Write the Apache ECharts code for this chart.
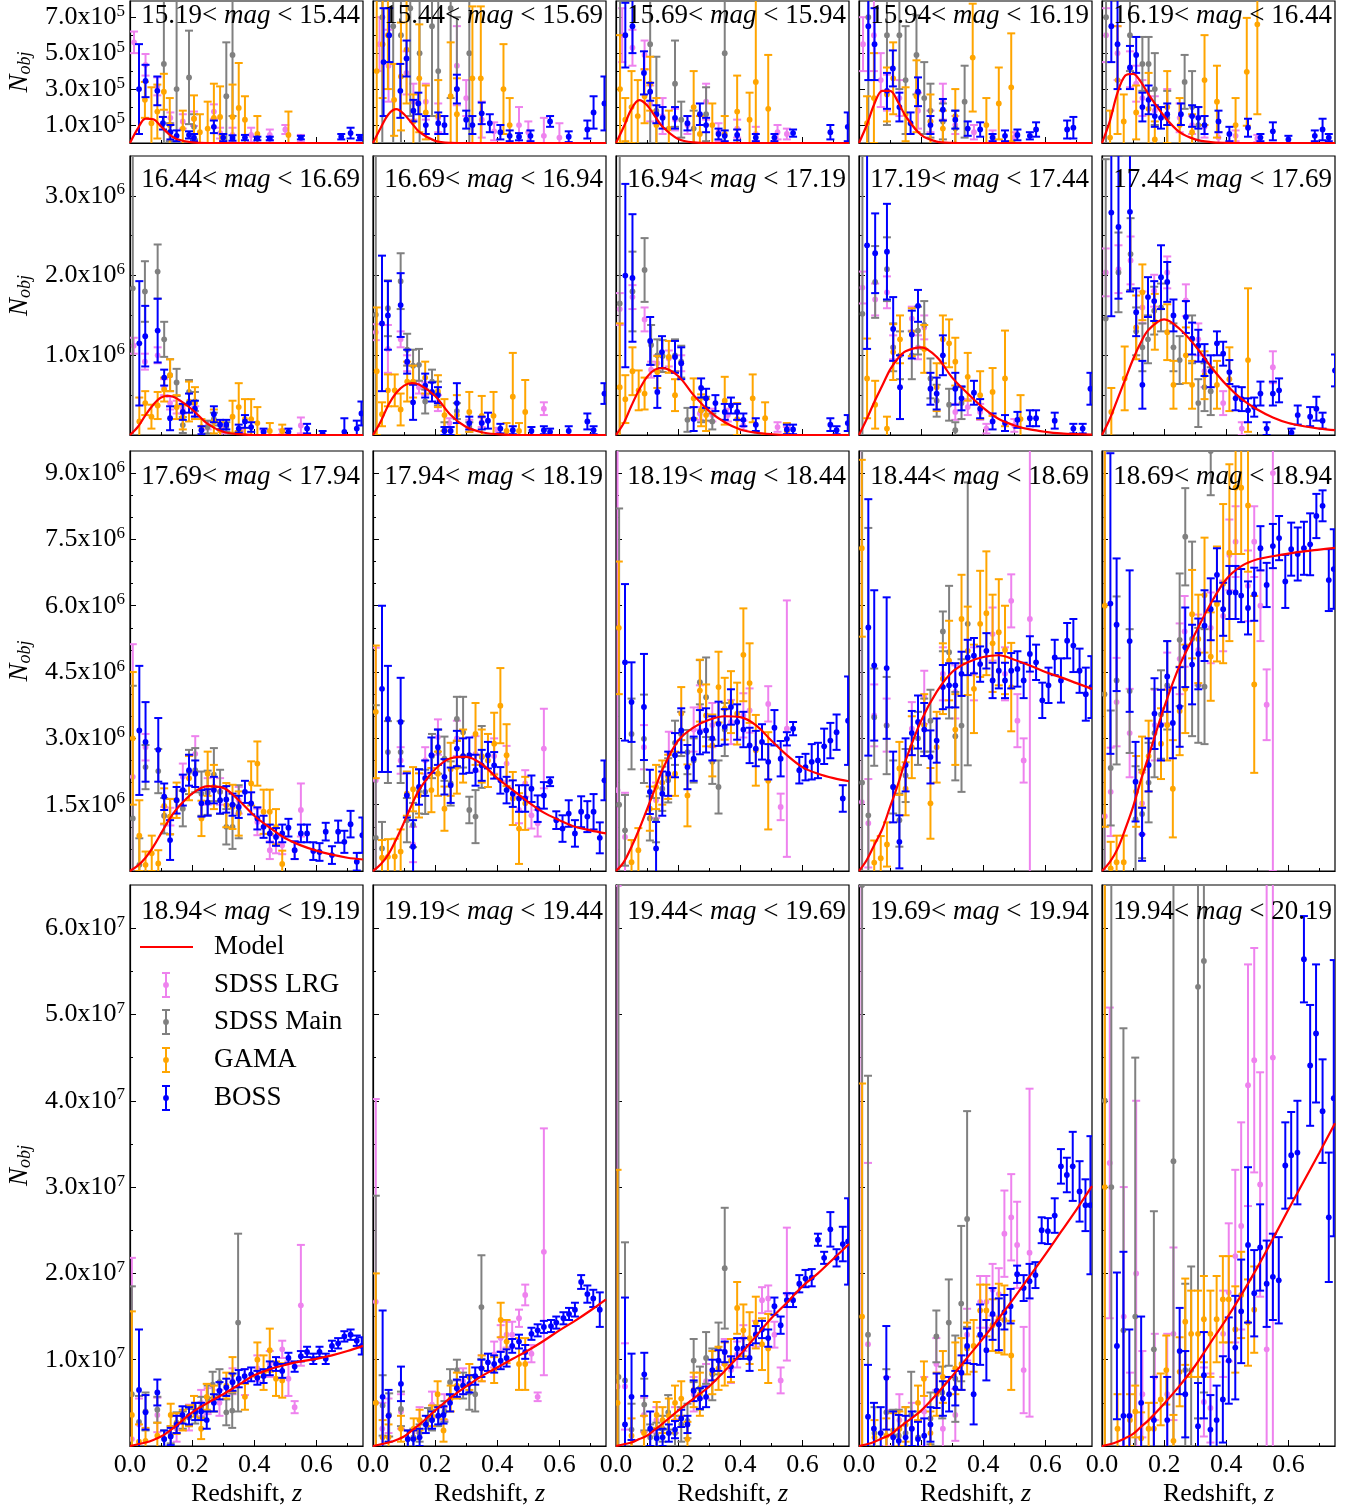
<!DOCTYPE html>
<html>
<head>
<meta charset="utf-8">
<title>Redshift distributions per magnitude bin</title>
<script src="https://cdn.jsdelivr.net/npm/echarts@6/dist/echarts.min.js"></script>
<style>
  html, body { margin: 0; padding: 0; background: #ffffff; }
  #chart { width: 1357px; height: 1511px; }
</style>
</head>
<body>
<div id="chart"></div>
<script>
// ---------------------------------------------------------------------------
// Magnitude bin edges (one panel per consecutive pair)
const MAG_EDGES = ['15.19','15.44','15.69','15.94','16.19','16.44','16.69','16.94','17.19','17.44',
                   '17.69','17.94','18.19','18.44','18.69','18.94','19.19','19.44','19.69','19.94','20.19'];

// Axis ticks (values per panel row, in units of ROW_UNIT)
const ROW_UNIT = [1e5, 1e6, 1e6, 1e7];
const ROW_EXP  = [5, 6, 6, 7];
const Y_MAX    = [7.9, 3.5, 9.5, 6.5];
const Y_MAJOR  = [[1,3,5,7], [1,2,3], [1.5,3,4.5,6,7.5,9], [1,2,3,4,5,6]];
const Y_MINOR  = [[2,4,6], [0.5,1.5,2.5], [0.5,1,2,2.5,3.5,4,5,5.5,6.5,7,8,8.5], [0.5,1.5,2.5,3.5,4.5,5.5]];
const X_MAX    = 0.75;
const X_MAJOR  = [0, 0.2, 0.4, 0.6];
const X_MINOR  = [0.1, 0.3, 0.5, 0.7];

// Model N(z) sampled at Z_MODEL, one row per magnitude bin (units of ROW_UNIT)
const Z_MODEL = [0,0.025,0.05,0.075,0.1,0.125,0.15,0.2,0.25,0.3,0.35,0.4,0.45,0.5,0.55,0.6,0.65,0.7,0.75];
const MODEL = [
  [0,0.8,1.36,1.32,0.92,0.5,0.22,0.03,0,0,0,0,0,0,0,0,0,0,0],
  [0,0.85,1.6,1.88,1.6,1.1,0.6,0.12,0.01,0,0,0,0,0,0,0,0,0,0],
  [0,0.9,1.9,2.38,2.1,1.5,0.9,0.22,0.03,0,0,0,0,0,0,0,0,0,0],
  [0,1.0,2.2,2.9,2.9,2.3,1.5,0.45,0.08,0.01,0,0,0,0,0,0,0,0,0],
  [0,1.2,2.8,3.75,3.85,3.4,2.7,1.5,0.6,0.2,0.05,0.01,0,0,0,0,0,0,0],
  [0,0.1,0.25,0.38,0.47,0.49,0.46,0.32,0.14,0.04,0.01,0,0,0,0,0,0,0,0],
  [0,0.17,0.38,0.53,0.62,0.65,0.63,0.49,0.25,0.1,0.035,0.01,0,0,0,0,0,0,0],
  [0,0.15,0.37,0.57,0.73,0.82,0.84,0.74,0.5,0.3,0.16,0.07,0.03,0.01,0,0,0,0,0],
  [0,0.2,0.42,0.62,0.82,0.96,1.05,1.1,0.98,0.72,0.52,0.34,0.2,0.12,0.07,0.04,0.02,0.01,0.005],
  [0,0.2,0.45,0.7,0.95,1.16,1.32,1.45,1.33,1.12,0.86,0.63,0.45,0.32,0.22,0.15,0.11,0.08,0.06],
  [0,0.12,0.3,0.55,0.85,1.15,1.4,1.75,1.92,1.88,1.6,1.25,0.98,0.74,0.58,0.46,0.37,0.3,0.26],
  [0,0.15,0.38,0.72,1.1,1.5,1.85,2.3,2.55,2.58,2.42,2.1,1.83,1.56,1.32,1.15,1.0,0.92,0.85],
  [0,0.2,0.55,0.95,1.4,1.85,2.3,2.95,3.25,3.42,3.5,3.48,3.3,2.95,2.62,2.35,2.2,2.1,2.03],
  [0,0.25,0.6,0.95,1.45,1.95,2.5,3.4,4.05,4.5,4.72,4.84,4.88,4.78,4.65,4.5,4.38,4.25,4.12],
  [0,0.2,0.5,0.95,1.45,2.05,2.6,3.7,4.65,5.37,6.05,6.6,6.9,7.05,7.12,7.18,7.23,7.27,7.31],
  [0,0.02,0.04,0.07,0.11,0.17,0.24,0.39,0.5,0.6,0.71,0.82,0.89,0.94,0.98,1.01,1.05,1.1,1.16],
  [0,0.02,0.04,0.07,0.11,0.18,0.25,0.41,0.56,0.69,0.81,0.91,1.01,1.11,1.22,1.34,1.45,1.57,1.7],
  [0,0.02,0.04,0.08,0.12,0.19,0.26,0.41,0.55,0.69,0.87,1.06,1.27,1.48,1.66,1.85,2.0,2.17,2.34],
  [0,0.02,0.05,0.09,0.13,0.2,0.27,0.41,0.6,0.81,1.03,1.25,1.48,1.72,1.97,2.22,2.48,2.74,3.01],
  [0,0.02,0.05,0.09,0.14,0.22,0.3,0.49,0.7,0.93,1.2,1.47,1.76,2.07,2.4,2.74,3.07,3.4,3.74]
];

// Measured counts: [z, N, error] per magnitude bin (units of ROW_UNIT)
const LRG = [
  [[0.013,5.6,0.6],[0.05,4.35,0.6],[0.088,3.15,0.5],[0.13,1.4,0.3],[0.17,1.2,0.4],[0.206,1.35,0.4],[0.27,1.75,0.4],[0.29,0.55,0.3],[0.33,0.45,0.4],[0.39,0.45,0.4],[0.45,0.45,0.3],[0.5,0.75,0.25],[0.55,0.25,0.2]],
  [[0.021,5.5,1.5],[0.05,4.3,2.0],[0.108,3.9,1.2],[0.13,2.3,1.0],[0.17,2.3,1.0],[0.21,1.4,0.8],[0.27,4.3,2.2],[0.3,2.5,1.0],[0.35,1.3,1.0],[0.39,0.65,0.5],[0.47,1.0,1.0],[0.5,0.6,0.6],[0.55,0.4,1.0],[0.6,0.3,0.8]],
  [[0.02,6.0,1.5],[0.053,5.3,1.0],[0.092,4.9,0.8],[0.11,2.2,1.0],[0.15,1.5,1.0],[0.19,1.3,0.6],[0.23,1.0,0.5],[0.29,2.3,1.0],[0.33,0.6,0.5],[0.39,0.8,0.5],[0.45,0.5,0.4],[0.52,0.6,0.4],[0.55,0.5,0.3]],
  [[0.013,5.5,1.5],[0.048,6.0,2.0],[0.07,3.5,1.5],[0.09,2.8,1.0],[0.13,2.5,1.0],[0.19,1.8,1.0],[0.23,1.2,0.6],[0.27,2.3,1.0],[0.31,1.0,0.5],[0.37,0.6,0.4],[0.43,0.4,0.3],[0.5,0.3,0.3]],
  [[0.013,6.0,1.5],[0.05,5.0,1.5],[0.09,4.1,1.0],[0.11,3.3,1.0],[0.13,2.5,1.0],[0.17,1.8,0.8],[0.21,2.0,1.0],[0.25,1.4,0.8],[0.29,1.0,0.5],[0.33,0.9,0.6],[0.375,0.3,0.3],[0.43,0.4,0.3],[0.5,0.25,0.2]],
  [[0.012,1.12,0.1],[0.048,0.92,0.1],[0.089,1.0,0.1],[0.11,0.6,0.1],[0.129,0.4,0.08],[0.15,0.35,0.08],[0.17,0.33,0.06],[0.21,0.3,0.06],[0.25,0.12,0.05],[0.3,0.06,0.04],[0.36,0.05,0.04],[0.43,0.03,0.03],[0.49,0.04,0.03],[0.55,0.12,0.1]],
  [[0.009,1.29,0.1],[0.048,1.08,0.3],[0.089,1.2,0.1],[0.11,0.9,0.1],[0.148,0.6,0.08],[0.168,0.58,0.08],[0.209,0.4,0.1],[0.246,0.15,0.06],[0.31,0.13,0.06],[0.35,0.16,0.06],[0.4,0.05,0.04],[0.55,0.33,0.08]],
  [[0.012,1.58,0.2],[0.053,1.73,0.15],[0.092,1.45,0.15],[0.113,0.82,0.1],[0.133,0.9,0.1],[0.17,0.96,0.1],[0.21,0.9,0.1],[0.27,0.27,0.08],[0.31,0.25,0.08],[0.36,0.25,0.08],[0.41,0.12,0.06],[0.52,0.1,0.06],[0.55,0.05,0.05]],
  [[0.011,1.85,0.2],[0.052,1.7,0.2],[0.09,1.79,0.2],[0.11,1.1,0.15],[0.17,1.46,0.15],[0.19,1.1,0.15],[0.21,1.35,0.15],[0.31,0.29,0.1],[0.35,0.35,0.1],[0.39,0.29,0.1],[0.41,0.08,0.06],[0.5,0.12,0.08]],
  [[0.012,2.04,0.3],[0.053,2.08,0.3],[0.092,2.19,0.3],[0.13,1.6,0.2],[0.168,1.81,0.2],[0.21,2.04,0.2],[0.27,1.69,0.2],[0.31,1.2,0.2],[0.33,0.8,0.2],[0.39,0.4,0.15],[0.45,0.08,0.08],[0.55,0.85,0.2]],
  [[0.009,2.13,3.0],[0.05,2.8,0.3],[0.11,1.25,0.2],[0.13,1.23,0.2],[0.17,2.13,0.3],[0.21,2.65,0.4],[0.25,1.8,0.3],[0.29,1.8,0.3],[0.35,1.6,0.3],[0.41,1.11,0.3],[0.45,0.47,0.2],[0.47,0.6,0.2],[0.49,0.58,0.2],[0.53,0.47,0.2],[0.55,1.38,0.6]],
  [[0.009,2.05,3.0],[0.089,2.5,0.3],[0.129,0.6,0.4],[0.168,2.5,0.3],[0.209,3.03,0.4],[0.27,3.0,0.4],[0.33,2.65,0.4],[0.39,2.6,0.4],[0.43,2.43,0.4],[0.47,1.38,0.3],[0.49,1.98,0.3],[0.51,1.26,0.3],[0.53,1.08,0.3],[0.55,2.77,0.9]],
  [[0.005,1.83,9],[0.029,0.77,1.0],[0.09,2.8,0.5],[0.129,1.6,0.4],[0.17,2.65,0.5],[0.21,3.1,0.5],[0.25,3.2,0.5],[0.27,3.7,0.5],[0.31,3.3,0.5],[0.37,3.37,0.5],[0.41,3.52,0.5],[0.43,3.63,0.5],[0.49,3.78,0.4],[0.53,1.45,0.3],[0.55,3.22,2.9]],
  [[0.009,1.56,9],[0.03,1.08,1.0],[0.049,3.52,0.7],[0.089,3.3,0.6],[0.17,3.22,0.6],[0.21,3.93,0.6],[0.27,4.46,0.6],[0.31,4.05,0.6],[0.37,4.46,0.6],[0.43,5.36,0.6],[0.47,4.46,0.6],[0.49,6.11,0.6],[0.51,3.4,0.6],[0.53,2.5,0.5],[0.55,5.7,10]],
  [[0.009,1.24,9],[0.028,1.79,1.0],[0.047,3.82,1.0],[0.089,3.12,1.0],[0.129,1.53,0.7],[0.17,3.3,0.8],[0.21,4.14,0.8],[0.25,4.8,0.8],[0.266,5.42,0.8],[0.31,5.0,0.8],[0.35,5.5,0.8],[0.39,5.77,0.8],[0.41,7.15,0.8],[0.43,7.45,0.8],[0.47,6.45,0.8],[0.49,7.45,0.8],[0.51,6.0,0.8],[0.53,3.76,0.8],[0.55,9,9]],
  [[0.006,0.08,2.1],[0.029,0.25,0.3],[0.088,0.36,0.2],[0.15,0.2,0.15],[0.19,0.33,0.15],[0.229,0.5,0.15],[0.25,0.52,0.15],[0.288,0.5,0.15],[0.33,0.75,0.15],[0.37,0.74,0.15],[0.41,0.9,0.15],[0.45,0.95,0.15],[0.49,1.12,0.1],[0.51,0.78,0.2],[0.53,0.45,0.07],[0.55,1.63,0.7]],
  [[0.009,1.67,2.35],[0.03,0.2,0.3],[0.05,0.35,0.2],[0.09,0.4,0.2],[0.15,0.3,0.15],[0.19,0.48,0.15],[0.23,0.45,0.15],[0.29,0.75,0.15],[0.35,0.9,0.15],[0.39,1.06,0.15],[0.411,1.25,0.15],[0.43,1.29,0.15],[0.448,1.29,0.15],[0.47,1.48,0.1],[0.49,1.75,0.12],[0.51,1.07,0.1],[0.53,0.57,0.05],[0.55,2.25,1.43]],
  [[0.005,0.69,5.8],[0.029,0.69,0.5],[0.09,0.36,0.2],[0.13,0.3,0.15],[0.19,0.3,0.15],[0.25,0.6,0.2],[0.29,0.75,0.2],[0.35,1.09,0.15],[0.37,0.88,0.15],[0.39,1.06,0.15],[0.41,1.25,0.15],[0.45,1.3,0.15],[0.47,1.69,0.15],[0.49,1.71,0.15],[0.51,1.29,0.15],[0.53,0.76,0.15],[0.55,1.76,0.77]],
  [[0.008,6.5,7],[0.029,1.18,2.1],[0.09,0.4,0.4],[0.13,0.3,0.3],[0.17,0.2,0.3],[0.21,0.4,0.4],[0.249,0.95,0.3],[0.27,0.2,0.3],[0.31,0.36,0.3],[0.348,1.29,0.3],[0.39,1.67,0.3],[0.41,1.67,0.3],[0.43,1.81,0.3],[0.45,1.76,0.3],[0.468,2.46,0.5],[0.49,2.65,0.5],[0.509,2.33,0.5],[0.53,0.88,0.5],[0.549,2.24,1.9]],
  [[0.025,3.28,1.8],[0.07,1.5,1.5],[0.09,0.35,0.5],[0.11,2.0,2.0],[0.13,0.6,0.5],[0.17,0.8,0.5],[0.21,0.6,0.7],[0.23,1.3,1.0],[0.328,0.51,0.4],[0.349,0.44,0.4],[0.39,1.3,0.5],[0.408,1.78,0.8],[0.429,2.2,1.0],[0.448,2.55,1.2],[0.47,4.18,1.4],[0.49,4.47,1.3],[0.509,3.03,1.3],[0.53,1.12,6],[0.55,4.5,5]]
];

const MAIN = [
  [[0.109,4.4,5],[0.128,0.6,0.5],[0.15,3.0,6],[0.19,3.65,2.6],[0.206,0.9,0.7],[0.31,2.6,3],[0.33,4.9,3.4]],
  [[0.03,7,7],[0.065,6.5,7],[0.09,6.0,6],[0.12,7.5,6],[0.15,5.0,6],[0.19,6.5,5],[0.21,4.0,5],[0.25,7.5,5],[0.27,3.0,4],[0.31,5.0,5]],
  [[0.013,8,8],[0.11,5.5,6],[0.13,1.8,3],[0.19,3.3,2.4],[0.21,1.3,1.0],[0.25,0.8,1.0],[0.29,1.6,1.5],[0.35,5,6]],
  [[0.03,7,7],[0.09,6.0,5],[0.13,6.0,3],[0.15,3.5,3],[0.185,4.9,2.2],[0.21,2.5,2],[0.23,1.8,1.5],[0.27,1.2,1.0],[0.31,0.8,1.0],[0.34,2.3,2]],
  [[0.013,7,7],[0.09,6.0,2],[0.13,4.4,1.5],[0.15,4.4,1.5],[0.17,3.0,2],[0.21,1.4,1.5],[0.266,3.4,1.5],[0.29,2.0,2],[0.31,1.0,1]],
  [[0.009,1.84,2.0],[0.048,1.8,0.38],[0.089,2.05,0.34],[0.11,1.2,0.22],[0.129,0.75,0.2],[0.15,0.66,0.17],[0.17,0.125,0.1],[0.19,0.54,0.15],[0.209,0.42,0.12],[0.25,0.1,0.08],[0.27,0.2,0.08],[0.31,0.1,0.06]],
  [[0.009,1.51,2.0],[0.048,1.59,0.35],[0.089,1.93,0.35],[0.11,1.07,0.2],[0.129,0.87,0.2],[0.148,0.88,0.2],[0.168,0.42,0.15],[0.19,0.67,0.15],[0.209,0.52,0.15],[0.23,0.06,0.1],[0.27,0.3,0.1],[0.31,0.1,0.06]],
  [[0.012,1.65,2.0],[0.053,1.8,0.5],[0.092,2.07,0.4],[0.113,1.13,0.25],[0.133,1.0,0.2],[0.15,0.99,0.2],[0.19,1.0,0.2],[0.21,0.92,0.2],[0.23,0.19,0.15],[0.274,0.31,0.15],[0.29,0.33,0.15],[0.31,0.17,0.1]],
  [[0.011,1.52,2.2],[0.052,1.92,0.45],[0.09,2.08,0.4],[0.11,1.1,0.3],[0.132,1.0,0.3],[0.17,1.0,0.3],[0.19,1.31,0.3],[0.21,1.38,0.3],[0.23,0.71,0.25],[0.25,0.43,0.2],[0.29,0.38,0.2],[0.31,0.06,0.1],[0.33,0.4,0.2]],
  [[0.012,1.46,2.0],[0.053,2.04,0.5],[0.092,2.27,0.45],[0.11,1.3,0.3],[0.13,1.1,0.3],[0.148,1.2,0.3],[0.168,1.56,0.3],[0.19,1.6,0.3],[0.23,1.1,0.3],[0.25,0.94,0.3],[0.29,1.2,0.3],[0.31,0.4,0.3],[0.33,0.6,0.3],[0.35,0.55,0.3]],
  [[0.009,1.19,3.0],[0.03,0.14,0.6],[0.05,2.35,0.5],[0.091,2.26,0.5],[0.11,1.25,0.4],[0.129,1.23,0.4],[0.17,1.41,0.4],[0.19,2.24,0.5],[0.21,2.28,0.5],[0.23,1.75,0.5],[0.25,1.77,0.5],[0.27,2.18,0.6],[0.29,1.79,0.5],[0.31,1.0,0.4],[0.33,1.0,0.5],[0.35,1.34,0.6]],
  [[0.009,0.75,3.0],[0.029,0.51,0.6],[0.048,2.69,0.7],[0.089,2.69,0.7],[0.109,1.15,0.5],[0.129,1.04,0.5],[0.148,1.8,0.5],[0.168,1.79,0.5],[0.19,2.6,0.5],[0.21,2.7,0.5],[0.23,2.54,0.5],[0.25,1.98,0.5],[0.27,3.44,0.5],[0.29,3.14,0.8],[0.31,1.38,0.3],[0.33,1.23,0.6],[0.35,2.58,0.7]],
  [[0.01,1.5,6.7],[0.029,0.92,0.8],[0.05,3.1,0.8],[0.09,2.99,1.0],[0.109,1.19,0.5],[0.129,1.15,0.5],[0.149,1.86,0.5],[0.168,2.05,0.5],[0.19,2.9,0.5],[0.21,3.1,0.5],[0.23,2.69,0.5],[0.25,2.5,0.5],[0.27,4.27,0.5],[0.29,3.93,0.9],[0.31,2.47,0.5],[0.33,1.9,0.6],[0.35,3.2,0.6]],
  [[0.01,2.0,9],[0.03,1.26,6.5],[0.049,3.48,1.1],[0.089,3.29,1.1],[0.11,1.9,0.6],[0.13,1.15,0.6],[0.15,2.16,0.6],[0.19,3.0,0.6],[0.21,3.3,0.6],[0.23,3.4,0.7],[0.27,5.42,0.45],[0.29,4.95,1.5],[0.31,3.05,1.0],[0.33,3.29,1.5],[0.35,5.59,3.2]],
  [[0.008,4,10],[0.028,2.33,1.3],[0.047,4.31,1.9],[0.089,4.07,1.4],[0.108,1.17,1.2],[0.129,1.29,1.0],[0.15,2.0,0.9],[0.169,3.12,1.0],[0.19,3.54,1.0],[0.21,4.2,1.0],[0.25,5.23,1.5],[0.268,7.56,1.1],[0.29,5.25,2.2],[0.31,4.2,1.3],[0.33,4.17,1.3],[0.35,9.5,1.0]],
  [[0.006,0.6,1.25],[0.029,0.28,0.3],[0.05,0.4,0.22],[0.088,0.42,0.15],[0.11,0.08,0.1],[0.131,0.13,0.1],[0.15,0.27,0.12],[0.17,0.3,0.1],[0.19,0.33,0.1],[0.21,0.38,0.12],[0.229,0.45,0.12],[0.25,0.55,0.15],[0.266,0.71,0.15],[0.288,0.74,0.15],[0.31,0.39,0.15],[0.329,0.41,0.2],[0.348,1.43,1.03]],
  [[0.009,0.5,2.4],[0.031,0.47,0.35],[0.052,0.36,0.25],[0.09,0.43,0.2],[0.112,0.08,0.1],[0.13,0.1,0.1],[0.15,0.15,0.1],[0.177,0.32,0.12],[0.19,0.3,0.12],[0.21,0.35,0.12],[0.23,0.4,0.12],[0.248,0.74,0.15],[0.27,0.88,0.12],[0.29,0.7,0.15],[0.31,0.62,0.2],[0.329,0.6,0.2],[0.349,1.61,0.6]],
  [[0.008,0.8,6],[0.029,0.76,1.6],[0.05,0.19,0.3],[0.091,0.48,0.3],[0.11,0.1,0.15],[0.13,0.12,0.15],[0.15,0.2,0.15],[0.168,0.39,0.2],[0.19,0.15,0.2],[0.21,0.25,0.2],[0.23,0.29,0.2],[0.25,0.99,0.25],[0.27,0.67,0.25],[0.29,1.02,0.3],[0.31,0.83,0.3],[0.33,1.13,0.3],[0.35,2.06,0.7]],
  [[0.01,6.5,8],[0.029,1.29,3.0],[0.05,0.15,0.3],[0.088,0.39,0.5],[0.11,0.12,0.3],[0.128,0.12,0.3],[0.15,0.15,0.3],[0.168,0.36,0.5],[0.19,0.1,0.3],[0.23,0.32,0.3],[0.249,1.27,0.3],[0.268,0.62,0.3],[0.289,1.43,0.5],[0.31,0.78,0.5],[0.329,1.65,0.9],[0.348,2.63,1.25]],
  [[0.009,4,8],[0.03,3,8],[0.069,1.34,3.5],[0.107,1.5,3.0],[0.167,1.12,1.6],[0.23,3.3,4],[0.268,0.88,1.0],[0.287,0.88,1.2],[0.309,5.32,5],[0.328,5.62,5]]
];

const GAMA = [
  [[0.048,2.4,1.0],[0.069,1.1,2.0],[0.088,1.75,1.5],[0.109,2.85,1.0],[0.128,1.0,1.5],[0.17,0.8,1.0],[0.206,1.35,1.3],[0.225,0.6,1.0],[0.25,0.8,1.5],[0.27,1.4,1.9],[0.29,1.45,1.7],[0.33,1.45,1.8],[0.35,1.95,2.5],[0.37,1.3,1.3],[0.41,0.5,1.0],[0.51,0.45,1.3]],
  [[0.012,4.0,6],[0.031,5.5,3],[0.048,6.0,3],[0.068,2.4,2],[0.09,3.7,3],[0.108,5.2,3],[0.13,1.2,1.5],[0.149,3.6,3],[0.17,1.7,1.5],[0.21,1.5,2],[0.25,2.6,3],[0.27,1.6,2],[0.32,3.6,4],[0.347,3.6,4],[0.42,3.0,2.5],[0.44,1.0,1.5]],
  [[0.013,3.0,3.0],[0.03,1.3,1.2],[0.05,2.0,2.0],[0.07,1.5,2.0],[0.092,2.6,1.5],[0.11,3.3,1.5],[0.13,1.0,1.5],[0.17,0.8,1.0],[0.25,2.0,2.0],[0.27,0.5,1.0],[0.31,1.0,1.2],[0.35,0.5,1.0],[0.39,1.75,2.0],[0.43,1.3,1.5],[0.45,3.4,5],[0.49,1.9,3.0]],
  [[0.026,1.1,1.5],[0.048,2.5,2.5],[0.09,2.7,1.5],[0.11,3.6,2.0],[0.15,1.6,1.5],[0.185,2.6,2.0],[0.23,1.2,1.5],[0.27,0.8,1.0],[0.31,1.5,1.5],[0.366,4.75,3],[0.41,1.0,1.5],[0.45,2.2,2],[0.49,3.1,3]],
  [[0.026,0.3,1.5],[0.05,3.5,3],[0.07,1.2,1.5],[0.11,1.7,1.5],[0.15,1.9,2],[0.17,0.2,1.0],[0.21,2.0,2],[0.25,1.0,1.5],[0.29,0.6,1.0],[0.33,3.5,2.5],[0.37,2.3,2],[0.43,1.0,1.5],[0.466,3.96,3],[0.5,6.6,5]],
  [[0.03,0.17,0.3],[0.049,0.4,0.15],[0.069,0.23,0.15],[0.089,0.37,0.17],[0.11,0.57,0.15],[0.129,0.75,0.2],[0.15,0.35,0.15],[0.17,0.22,0.15],[0.19,0.42,0.25],[0.209,0.4,0.2],[0.23,0.1,0.1],[0.27,0.17,0.15],[0.29,0.06,0.1],[0.33,0.23,0.2],[0.35,0.35,0.3],[0.37,0.2,0.25],[0.39,0.2,0.25],[0.41,0.15,0.2],[0.45,0.05,0.1],[0.49,0.05,0.08]],
  [[0.012,0.8,0.8],[0.029,0.26,0.15],[0.048,0.56,0.2],[0.07,0.56,0.2],[0.089,0.32,0.2],[0.11,0.67,0.25],[0.129,0.67,0.2],[0.168,0.72,0.2],[0.209,0.55,0.2],[0.23,0.25,0.2],[0.27,0.25,0.25],[0.31,0.29,0.25],[0.35,0.24,0.25],[0.388,0.24,0.3],[0.43,0.05,0.1],[0.45,0.48,0.55],[0.47,0.05,0.1],[0.49,0.29,0.4]],
  [[0.012,0.6,0.8],[0.03,0.45,0.3],[0.053,0.8,0.3],[0.073,0.56,0.25],[0.092,0.52,0.2],[0.133,0.79,0.2],[0.17,0.98,0.2],[0.19,0.5,0.2],[0.25,0.46,0.25],[0.274,0.31,0.2],[0.29,0.25,0.2],[0.35,0.43,0.3],[0.39,0.2,0.2],[0.44,0.46,0.3],[0.48,0.21,0.2],[0.55,0.05,0.1]],
  [[0.026,0.71,0.5],[0.052,0.38,0.3],[0.09,0.08,0.15],[0.11,1.04,0.35],[0.132,1.2,0.3],[0.17,1.29,0.3],[0.21,1.08,0.3],[0.25,0.6,0.3],[0.27,1.2,0.3],[0.29,1.15,0.3],[0.31,0.92,0.3],[0.35,0.73,0.3],[0.39,0.5,0.3],[0.43,0.54,0.3],[0.47,0.71,0.6],[0.52,0.2,0.3]],
  [[0.03,0.29,0.3],[0.073,0.71,0.4],[0.11,1.35,0.4],[0.13,1.79,0.35],[0.17,1.42,0.35],[0.21,1.29,0.35],[0.23,0.63,0.3],[0.27,1.0,0.35],[0.29,0.63,0.3],[0.33,0.75,0.3],[0.37,0.63,0.3],[0.41,0.7,0.4],[0.47,0.94,0.9]],
  [[0.009,3.0,1.5],[0.03,0.8,0.8],[0.05,0.14,0.3],[0.07,0.4,0.4],[0.091,0.17,0.3],[0.11,1.47,0.4],[0.129,1.23,0.4],[0.15,1.6,0.4],[0.19,2.1,0.5],[0.23,1.19,0.4],[0.25,2.2,0.5],[0.27,1.9,0.5],[0.31,1.49,0.5],[0.33,1.45,0.5],[0.35,1.3,0.5],[0.39,1.98,0.5],[0.41,2.43,0.5],[0.43,1.34,0.5],[0.45,1.34,0.5],[0.47,1.0,0.4],[0.49,0.16,0.3]],
  [[0.009,3.6,1.5],[0.029,0.3,0.4],[0.048,0.32,0.4],[0.07,0.33,0.4],[0.089,0.44,0.5],[0.109,1.75,0.5],[0.129,1.85,0.5],[0.148,1.71,0.5],[0.188,1.83,0.5],[0.209,2.2,0.5],[0.23,1.41,0.5],[0.25,2.3,0.6],[0.27,2.35,0.6],[0.29,2.6,0.6],[0.33,3.1,0.7],[0.35,2.6,0.6],[0.37,2.5,0.6],[0.39,2.88,0.7],[0.41,3.74,0.85],[0.43,2.62,0.7],[0.45,1.64,0.6],[0.47,0.96,0.8],[0.49,1.53,0.6]],
  [[0.009,5.5,1.5],[0.05,0.2,0.5],[0.072,0.47,0.5],[0.109,1.41,0.5],[0.129,1.9,0.5],[0.149,2.0,0.5],[0.168,2.13,0.5],[0.19,2.2,0.5],[0.21,3.56,0.6],[0.23,1.71,0.7],[0.27,4.08,0.7],[0.29,3.52,0.7],[0.31,2.84,0.7],[0.33,4.16,0.8],[0.35,3.67,0.7],[0.37,3.82,0.7],[0.39,3.56,0.7],[0.41,4.89,1.05],[0.43,4.25,0.9],[0.45,2.73,0.8],[0.49,2.04,1.1]],
  [[0.009,7.3,2.0],[0.049,0.19,0.5],[0.07,0.29,0.5],[0.09,0.6,0.5],[0.13,2.32,0.6],[0.15,1.86,0.6],[0.17,2.8,0.7],[0.21,3.3,0.7],[0.23,1.53,0.8],[0.25,2.8,0.8],[0.27,4.35,0.8],[0.29,4.76,0.9],[0.31,3.2,0.8],[0.33,5.7,1.0],[0.35,4.98,1.0],[0.37,4.12,1.0],[0.39,5.59,1.2],[0.41,5.83,1.4],[0.43,5.15,1.1],[0.45,5.4,1.2],[0.47,5.0,1.0],[0.49,4.16,1.0]],
  [[0.009,6,5],[0.028,0.06,0.6],[0.047,0.2,0.6],[0.07,0.2,0.6],[0.11,1.8,0.8],[0.129,2.24,0.8],[0.15,2.6,0.8],[0.19,2.88,0.8],[0.21,3.3,0.8],[0.228,1.86,1.1],[0.25,3.62,1.0],[0.268,4.12,1.0],[0.29,5.81,1.0],[0.31,5.25,1.0],[0.33,6.24,1.3],[0.35,4.85,1.0],[0.37,6.04,1.3],[0.39,6.5,1.8],[0.41,7.2,2.0],[0.43,8.67,1.5],[0.448,8.67,1.5],[0.47,8.27,1.5],[0.49,4.22,2.0]],
  [[0.006,0.36,1.2],[0.029,0.05,0.2],[0.05,0.06,0.15],[0.088,0.12,0.15],[0.131,0.36,0.13],[0.15,0.26,0.12],[0.17,0.3,0.12],[0.19,0.35,0.12],[0.206,0.46,0.12],[0.229,0.2,0.12],[0.247,0.57,0.15],[0.27,0.55,0.15],[0.31,0.7,0.15],[0.33,0.83,0.2],[0.37,0.57,0.15],[0.41,1.0,0.2],[0.43,0.85,0.2],[0.45,1.11,0.25],[0.47,0.78,0.2],[0.49,0.76,0.2]],
  [[0.009,0.5,1.5],[0.031,0.1,0.2],[0.05,0.1,0.15],[0.09,0.2,0.15],[0.131,0.2,0.12],[0.15,0.3,0.12],[0.19,0.35,0.12],[0.208,0.6,0.15],[0.227,0.18,0.13],[0.25,0.55,0.15],[0.27,0.7,0.15],[0.31,0.8,0.15],[0.35,0.9,0.15],[0.39,0.88,0.15],[0.411,1.46,0.2],[0.43,1.21,0.25],[0.47,0.95,0.3],[0.49,0.95,0.3]],
  [[0.005,0.5,2.7],[0.05,0.12,0.2],[0.09,0.15,0.2],[0.131,0.36,0.15],[0.15,0.3,0.15],[0.17,0.35,0.2],[0.19,0.5,0.2],[0.21,0.55,0.2],[0.23,0.08,0.2],[0.25,0.65,0.2],[0.27,0.6,0.25],[0.31,0.85,0.25],[0.33,0.9,0.25],[0.35,0.95,0.25],[0.37,0.99,0.25],[0.39,1.6,0.3],[0.41,1.34,0.3],[0.43,1.25,0.3],[0.45,1.43,0.3],[0.47,1.18,0.3],[0.49,1.13,0.4]],
  [[0.01,1.5,2.7],[0.05,0.1,0.2],[0.088,0.12,0.2],[0.11,0.18,0.2],[0.13,0.2,0.2],[0.15,0.25,0.2],[0.19,0.5,0.2],[0.209,0.78,0.2],[0.23,0.15,0.25],[0.25,0.6,0.25],[0.27,0.8,0.3],[0.31,0.9,0.3],[0.33,0.95,0.3],[0.348,1.13,0.3],[0.369,1.16,0.3],[0.39,1.57,0.3],[0.41,1.57,0.3],[0.43,1.4,0.3],[0.45,1.48,0.4],[0.468,1.46,0.4],[0.49,1.05,0.4]],
  [[0.009,3,4],[0.05,0.2,0.4],[0.09,0.3,0.3],[0.107,0.4,0.3],[0.126,0.09,0.3],[0.15,0.2,0.3],[0.167,0.2,0.3],[0.189,0.54,0.3],[0.207,0.88,0.4],[0.23,0.06,0.3],[0.25,0.86,0.4],[0.268,1.44,0.5],[0.287,1.3,0.5],[0.309,1.3,0.5],[0.328,1.47,0.5],[0.349,1.3,0.5],[0.369,1.47,0.5],[0.389,1.7,0.5],[0.408,1.7,0.5],[0.429,1.35,0.5],[0.448,1.75,0.5],[0.47,1.43,0.5],[0.49,1.58,0.5]]
];

const BOSS = [
  [[0.029,3.0,2.5],[0.05,3.45,0.9],[0.088,2.9,0.8],[0.106,1.1,0.35],[0.13,0.6,0.4],[0.15,0.4,0.3],[0.19,0.45,0.2],[0.206,0.3,0.2],[0.27,0.9,0.35],[0.3,0.3,0.2],[0.33,0.28,0.15],[0.37,0.3,0.15],[0.41,0.25,0.1],[0.45,0.25,0.1],[0.55,0.3,0.1],[0.68,0.35,0.15],[0.71,0.55,0.3],[0.74,0.3,0.15]],
  [[0.034,4.5,3],[0.052,6.0,1.5],[0.088,2.9,1.5],[0.108,4.7,1.0],[0.13,1.8,0.6],[0.146,2.2,0.6],[0.17,1.0,0.5],[0.21,1.1,0.6],[0.23,1.0,0.5],[0.27,3.0,0.8],[0.3,1.3,0.5],[0.32,1.0,0.5],[0.35,1.65,0.6],[0.376,1.1,0.5],[0.41,0.6,0.4],[0.44,0.4,0.3],[0.47,0.35,0.2],[0.507,0.4,0.3],[0.57,1.2,0.3],[0.63,0.35,0.3],[0.69,0.75,0.5],[0.71,1.7,0.9],[0.745,2.2,1.5]],
  [[0.03,6.0,1.8],[0.053,6.5,1.5],[0.09,3.9,1.2],[0.11,2.85,0.5],[0.13,1.6,0.5],[0.15,1.4,0.6],[0.19,1.4,0.6],[0.23,1.1,0.4],[0.27,1.6,0.6],[0.29,1.0,0.4],[0.33,0.5,0.3],[0.35,0.4,0.3],[0.39,0.45,0.3],[0.45,0.3,0.2],[0.51,0.3,0.2],[0.57,0.55,0.2],[0.69,0.6,0.4],[0.746,0.9,0.8]],
  [[0.03,6.5,3],[0.05,5.5,2],[0.09,2.9,1.0],[0.109,4.15,1.0],[0.13,2.0,0.8],[0.166,1.1,0.6],[0.19,2.85,0.8],[0.23,1.0,0.5],[0.27,1.85,0.6],[0.31,1.3,0.5],[0.35,0.8,0.4],[0.39,0.75,0.4],[0.43,0.3,0.2],[0.47,0.4,0.3],[0.51,0.45,0.3],[0.55,0.4,0.2],[0.57,0.75,0.4],[0.67,0.75,0.5],[0.69,0.85,0.6]],
  [[0.03,6.5,2],[0.05,5.5,2.5],[0.09,4.2,1.2],[0.11,4.9,1.0],[0.13,2.0,0.8],[0.15,2.4,0.8],[0.17,1.5,0.6],[0.19,1.4,0.6],[0.21,1.6,0.6],[0.254,1.6,0.6],[0.29,1.5,0.6],[0.31,1.4,0.6],[0.33,1.0,0.5],[0.375,1.2,0.6],[0.41,0.5,0.4],[0.47,0.85,0.5],[0.51,0.3,0.2],[0.55,0.65,0.5],[0.6,0.2,0.2],[0.685,0.4,0.3],[0.71,0.75,0.6],[0.73,0.3,0.2]],
  [[0.03,1.15,0.78],[0.049,1.24,0.38],[0.089,1.31,0.4],[0.11,0.72,0.1],[0.129,0.21,0.15],[0.17,0.29,0.1],[0.19,0.4,0.12],[0.209,0.33,0.1],[0.23,0.06,0.05],[0.27,0.26,0.1],[0.29,0.13,0.06],[0.31,0.13,0.06],[0.35,0.08,0.05],[0.37,0.17,0.08],[0.39,0.1,0.06],[0.43,0.04,0.04],[0.51,0.04,0.04],[0.57,0.08,0.06],[0.62,0.02,0.03],[0.69,0.04,0.17],[0.73,0.08,0.1],[0.745,0.27,0.15]],
  [[0.029,1.4,0.85],[0.048,1.5,0.43],[0.089,1.63,0.4],[0.11,0.92,0.15],[0.129,0.41,0.22],[0.168,0.62,0.15],[0.19,0.54,0.12],[0.209,0.5,0.1],[0.23,0.05,0.05],[0.25,0.05,0.05],[0.27,0.4,0.25],[0.31,0.15,0.08],[0.35,0.15,0.08],[0.37,0.18,0.1],[0.41,0.08,0.06],[0.45,0.06,0.05],[0.51,0.05,0.05],[0.55,0.06,0.05],[0.57,0.04,0.04],[0.63,0.05,0.06],[0.69,0.17,0.1],[0.71,0.06,0.05],[0.745,0.52,0.13]],
  [[0.03,2.0,1.15],[0.053,1.97,0.8],[0.11,1.18,0.3],[0.133,0.54,0.2],[0.148,1.04,0.2],[0.19,0.98,0.2],[0.21,0.9,0.2],[0.25,0.2,0.15],[0.274,0.59,0.12],[0.29,0.46,0.12],[0.32,0.4,0.1],[0.35,0.29,0.1],[0.37,0.37,0.1],[0.39,0.29,0.1],[0.41,0.19,0.08],[0.45,0.13,0.08],[0.55,0.07,0.06],[0.57,0.07,0.06],[0.69,0.13,0.08],[0.71,0.06,0.05],[0.746,0.15,0.1]],
  [[0.026,2.38,1.3],[0.052,2.28,0.5],[0.09,2.3,0.6],[0.11,1.33,0.4],[0.132,0.6,0.4],[0.17,1.26,0.3],[0.19,1.62,0.2],[0.23,0.58,0.2],[0.25,0.52,0.2],[0.27,1.0,0.25],[0.31,0.58,0.2],[0.33,0.46,0.15],[0.37,0.53,0.15],[0.39,0.33,0.12],[0.43,0.17,0.1],[0.47,0.15,0.1],[0.51,0.19,0.1],[0.55,0.21,0.1],[0.57,0.21,0.1],[0.63,0.18,0.1],[0.69,0.08,0.06],[0.72,0.08,0.06],[0.745,0.58,0.2]],
  [[0.03,2.79,1.3],[0.053,2.61,0.9],[0.09,2.8,1.0],[0.11,1.54,0.3],[0.13,0.63,0.3],[0.148,1.73,0.25],[0.168,1.68,0.25],[0.19,1.98,0.4],[0.21,1.92,0.25],[0.23,1.5,0.2],[0.27,1.48,0.2],[0.29,1.21,0.2],[0.31,1.12,0.2],[0.33,0.94,0.2],[0.35,0.8,0.2],[0.37,1.15,0.15],[0.39,1.02,0.15],[0.41,0.79,0.15],[0.43,0.46,0.15],[0.45,0.45,0.15],[0.47,0.31,0.15],[0.49,0.35,0.12],[0.51,0.52,0.15],[0.53,0.08,0.08],[0.55,0.52,0.15],[0.57,0.56,0.15],[0.61,0.03,0.05],[0.63,0.25,0.12],[0.67,0.23,0.12],[0.69,0.33,0.15],[0.71,0.18,0.1],[0.75,0.81,0.2]],
  [[0.03,3.18,1.46],[0.05,2.92,0.9],[0.091,2.74,0.72],[0.11,1.68,0.3],[0.129,0.7,0.45],[0.15,1.6,0.3],[0.17,1.83,0.35],[0.19,2.28,0.35],[0.21,2.2,0.3],[0.23,1.53,0.3],[0.25,1.55,0.3],[0.27,1.83,0.3],[0.29,1.6,0.3],[0.31,1.62,0.3],[0.33,1.5,0.25],[0.35,1.45,0.25],[0.37,1.79,0.25],[0.39,1.53,0.25],[0.41,1.19,0.25],[0.43,1.0,0.25],[0.45,0.85,0.2],[0.47,0.77,0.2],[0.49,0.85,0.2],[0.51,0.98,0.2],[0.53,0.47,0.2],[0.55,0.85,0.2],[0.57,0.85,0.2],[0.59,0.45,0.2],[0.61,0.43,0.2],[0.63,0.89,0.2],[0.65,0.36,0.2],[0.67,0.89,0.25],[0.69,0.66,0.25],[0.71,1.06,0.3],[0.73,0.21,0.2],[0.748,0.81,0.4]],
  [[0.029,4.12,1.88],[0.048,3.44,1.2],[0.089,3.37,1.0],[0.109,1.71,0.5],[0.129,0.55,0.6],[0.148,1.9,0.4],[0.168,2.1,0.4],[0.188,2.62,0.4],[0.209,2.8,0.4],[0.23,2.13,0.4],[0.25,1.94,0.4],[0.27,2.77,0.4],[0.29,2.6,0.4],[0.31,2.62,0.4],[0.33,2.28,0.35],[0.35,2.39,0.35],[0.37,2.62,0.3],[0.39,2.39,0.3],[0.41,2.05,0.3],[0.43,1.83,0.3],[0.45,1.75,0.3],[0.47,1.64,0.3],[0.49,1.64,0.3],[0.51,1.86,0.3],[0.53,1.41,0.3],[0.55,1.71,0.3],[0.57,2.02,0.1],[0.59,1.15,0.2],[0.61,0.96,0.3],[0.63,1.3,0.3],[0.65,0.85,0.3],[0.67,1.34,0.35],[0.69,1.23,0.35],[0.71,1.34,0.4],[0.73,0.75,0.35],[0.745,2.05,0.45]],
  [[0.029,4.72,1.77],[0.05,3.82,0.9],[0.09,3.71,1.2],[0.109,1.79,0.5],[0.129,0.51,0.6],[0.149,1.75,0.5],[0.168,2.2,0.5],[0.19,2.62,0.5],[0.21,3.18,0.5],[0.23,2.35,0.5],[0.25,2.54,0.5],[0.27,3.14,0.5],[0.29,3.18,0.5],[0.31,3.0,0.5],[0.33,3.33,0.5],[0.35,3.26,0.4],[0.37,3.71,0.4],[0.39,3.37,0.4],[0.41,3.2,0.4],[0.43,2.84,0.4],[0.45,2.77,0.4],[0.47,2.92,0.4],[0.49,2.47,0.4],[0.51,3.24,0.4],[0.53,2.54,0.4],[0.55,2.99,0.15],[0.57,3.22,0.15],[0.59,2.28,0.3],[0.61,2.35,0.3],[0.63,2.47,0.4],[0.65,2.5,0.4],[0.67,2.82,0.4],[0.69,2.95,0.4],[0.71,3.14,0.4],[0.73,1.64,0.3],[0.747,3.4,1.0]],
  [[0.03,5.51,2.9],[0.049,4.65,1.7],[0.089,4.59,1.6],[0.11,1.9,0.8],[0.13,0.66,0.6],[0.15,2.4,0.6],[0.17,3.12,0.5],[0.19,3.37,0.6],[0.21,3.2,0.6],[0.23,2.58,0.6],[0.25,2.95,0.5],[0.27,4.16,0.5],[0.29,4.2,0.5],[0.31,4.2,0.5],[0.33,4.46,0.5],[0.35,4.83,0.4],[0.37,4.87,0.4],[0.39,4.68,0.4],[0.41,4.98,0.4],[0.43,4.31,0.4],[0.45,4.53,0.4],[0.47,4.31,0.4],[0.49,4.53,0.4],[0.51,4.57,0.4],[0.53,4.31,0.4],[0.55,4.91,0.4],[0.57,4.72,0.4],[0.59,3.86,0.4],[0.61,4.2,0.4],[0.63,4.83,0.4],[0.65,4.31,0.5],[0.67,5.21,0.4],[0.69,5.1,0.6],[0.71,4.53,0.5],[0.73,4.0,0.6],[0.748,4.16,0.7]],
  [[0.027,6.05,3.4],[0.047,5.57,1.5],[0.089,5.2,1.6],[0.108,2.02,0.9],[0.129,0.83,0.6],[0.15,2.4,0.6],[0.169,3.56,0.8],[0.19,3.3,0.8],[0.21,4.4,0.8],[0.228,3.35,0.8],[0.25,3.71,0.9],[0.268,5.06,0.9],[0.29,4.67,0.9],[0.31,4.91,0.8],[0.33,5.55,0.8],[0.35,5.92,0.7],[0.37,6.7,0.6],[0.39,5.92,0.6],[0.41,6.3,0.6],[0.43,6.3,0.6],[0.448,6.23,0.6],[0.47,5.95,0.6],[0.49,6.26,0.6],[0.51,7.3,0.5],[0.53,6.47,0.5],[0.55,7.35,0.5],[0.57,7.53,0.5],[0.59,6.55,0.6],[0.609,7.28,0.6],[0.63,7.17,0.6],[0.65,7.3,0.6],[0.67,7.39,0.7],[0.69,8.03,0.5],[0.71,8.26,0.35],[0.73,6.58,0.7],[0.746,6.83,0.9]],
  [[0.029,0.65,0.7],[0.05,0.39,0.2],[0.088,0.62,0.15],[0.11,0.08,0.1],[0.131,0.11,0.1],[0.15,0.25,0.1],[0.169,0.36,0.1],[0.19,0.35,0.1],[0.21,0.4,0.1],[0.229,0.4,0.1],[0.247,0.3,0.1],[0.27,0.5,0.1],[0.288,0.64,0.1],[0.31,0.68,0.1],[0.33,0.74,0.1],[0.35,0.78,0.1],[0.369,0.81,0.08],[0.39,0.83,0.08],[0.41,0.79,0.08],[0.43,0.81,0.08],[0.45,0.9,0.08],[0.47,0.95,0.08],[0.49,0.87,0.08],[0.51,1.02,0.06],[0.53,0.92,0.06],[0.55,1.04,0.06],[0.57,1.09,0.06],[0.59,1.01,0.06],[0.61,1.09,0.06],[0.63,1.01,0.06],[0.65,1.16,0.06],[0.67,1.19,0.06],[0.69,1.27,0.06],[0.71,1.29,0.06],[0.73,1.22,0.06],[0.746,1.16,0.1]],
  [[0.031,0.57,1.0],[0.05,0.35,0.3],[0.09,0.72,0.2],[0.112,0.08,0.1],[0.13,0.08,0.1],[0.15,0.1,0.1],[0.17,0.25,0.1],[0.19,0.3,0.1],[0.21,0.35,0.1],[0.227,0.36,0.1],[0.248,0.5,0.1],[0.27,0.67,0.1],[0.29,0.7,0.1],[0.31,0.72,0.1],[0.329,0.81,0.1],[0.349,0.9,0.1],[0.37,0.97,0.1],[0.39,0.95,0.1],[0.411,0.99,0.1],[0.43,1.02,0.1],[0.448,1.16,0.08],[0.47,1.21,0.08],[0.49,1.09,0.08],[0.51,1.3,0.07],[0.53,1.34,0.07],[0.55,1.38,0.07],[0.573,1.39,0.07],[0.59,1.43,0.07],[0.613,1.48,0.07],[0.631,1.53,0.07],[0.65,1.58,0.08],[0.67,1.9,0.08],[0.69,1.76,0.1],[0.709,1.71,0.1],[0.73,1.58,0.2]],
  [[0.029,0.25,1.47],[0.05,0.57,0.5],[0.091,0.83,0.25],[0.11,0.2,0.2],[0.131,0.09,0.1],[0.15,0.1,0.1],[0.17,0.15,0.1],[0.19,0.19,0.1],[0.21,0.32,0.1],[0.23,0.25,0.1],[0.25,0.64,0.12],[0.27,0.55,0.12],[0.29,0.57,0.12],[0.31,0.88,0.12],[0.33,0.99,0.12],[0.35,1.09,0.12],[0.37,0.92,0.12],[0.39,1.13,0.12],[0.41,1.13,0.12],[0.43,1.02,0.15],[0.45,1.29,0.1],[0.47,1.35,0.1],[0.49,1.25,0.1],[0.51,1.62,0.1],[0.53,1.4,0.1],[0.55,1.69,0.08],[0.57,1.69,0.08],[0.59,1.88,0.1],[0.61,1.94,0.1],[0.63,1.95,0.1],[0.65,2.39,0.07],[0.67,2.18,0.07],[0.69,2.51,0.2],[0.71,2.18,0.1],[0.73,2.34,0.2],[0.747,2.37,0.5]],
  [[0.029,0.34,0.6],[0.048,0.2,0.3],[0.07,0.15,0.3],[0.088,0.79,0.6],[0.11,0.1,0.3],[0.128,0.06,0.3],[0.15,0.1,0.25],[0.17,0.2,0.2],[0.19,0.08,0.2],[0.21,0.12,0.2],[0.23,0.25,0.2],[0.25,0.64,0.2],[0.27,0.55,0.2],[0.29,0.6,0.2],[0.31,0.67,0.2],[0.33,0.85,0.2],[0.348,1.16,0.2],[0.369,0.6,0.35],[0.39,1.29,0.35],[0.41,1.11,0.35],[0.43,1.53,0.3],[0.45,1.41,0.3],[0.468,1.55,0.2],[0.488,1.62,0.2],[0.509,1.99,0.1],[0.53,1.83,0.15],[0.549,1.91,0.2],[0.568,1.98,0.15],[0.588,2.5,0.15],[0.608,2.49,0.15],[0.63,2.67,0.2],[0.65,3.24,0.2],[0.669,3.14,0.2],[0.688,3.24,0.4],[0.71,2.95,0.35],[0.729,2.79,0.3],[0.745,2.79,0.8]],
  [[0.048,1.16,0.85],[0.069,0.35,1.9],[0.088,0.35,1.0],[0.126,0.5,1.0],[0.167,0.3,0.5],[0.21,0.3,0.5],[0.25,1.1,0.5],[0.268,0.6,0.5],[0.309,0.23,0.5],[0.328,0.82,0.5],[0.349,0.19,0.4],[0.369,0.3,0.4],[0.389,0.54,0.5],[0.408,0.99,0.5],[0.429,1.14,0.6],[0.448,1.56,0.6],[0.47,2.33,0.9],[0.49,1.77,0.5],[0.509,2.3,0.5],[0.53,1.88,0.5],[0.55,1.96,0.5],[0.569,1.92,0.5],[0.59,3.25,0.5],[0.609,3.37,0.5],[0.629,3.4,0.6],[0.65,5.64,0.5],[0.67,4.41,0.7],[0.689,4.78,0.8],[0.71,3.88,0.6],[0.73,2.65,0.75],[0.746,4.03,1.6]]
];

// Survey styling (drawn bottom to top in this order)
const SURVEYS = [
  { name: 'SDSS LRG',  color: '#ee82ee', data: LRG },
  { name: 'SDSS Main', color: '#808080', data: MAIN },
  { name: 'GAMA',      color: '#ffa500', data: GAMA },
  { name: 'BOSS',      color: '#0000ff', data: BOSS }
];
const MODEL_COLOR = '#ff0000';

// ---------------------------------------------------------------------------
// Page layout (pixels)
const COL_LEFT   = [130, 373, 616, 859, 1102];
const PANEL_W    = 233;
const ROW_TOP    = [1, 156, 451, 885];
const ROW_BOTTOM = [143, 435, 871, 1446];
const TITLE_DY   = [15, 24, 26, 27];
const FONT = '"Liberation Serif", "Times New Roman", serif';
const CAP = 4, DOT = 2.9, BAR_W = 2;

function errorBarRenderer(color) {
  return function (params, api) {
    const z = api.value(0), v = api.value(1), e = api.value(2);
    const p  = api.coord([z, v]);
    const hi = api.coord([z, v + e]);
    const lo = api.coord([z, v - e]);
    const st = { stroke: color, lineWidth: BAR_W };
    return {
      type: 'group',
      children: [
        { type: 'line', shape: { x1: p[0], y1: hi[1], x2: p[0], y2: lo[1] }, style: st },
        { type: 'line', shape: { x1: p[0] - CAP, y1: hi[1], x2: p[0] + CAP, y2: hi[1] }, style: st },
        { type: 'line', shape: { x1: p[0] - CAP, y1: lo[1], x2: p[0] + CAP, y2: lo[1] }, style: st },
        { type: 'circle', shape: { cx: p[0], cy: p[1], r: DOT }, style: { fill: color } }
      ]
    };
  };
}

const grids = [], xAxes = [], yAxes = [], series = [], graphics = [];

for (let i = 0; i < 20; i++) {
  const r = Math.floor(i / 5), c = i % 5;
  const unit = ROW_UNIT[r];
  const top = ROW_TOP[r], height = ROW_BOTTOM[r] - ROW_TOP[r];

  grids.push({
    left: COL_LEFT[c], top: top, width: PANEL_W, height: height,
    show: true, borderColor: '#000', borderWidth: 1.2,
    containLabel: false, outerBoundsMode: 'none'
  });

  // x axes: labelled major ticks + short minor ticks
  xAxes.push({
    type: 'value', gridIndex: i, min: 0, max: X_MAX, position: 'bottom',
    axisLine: { show: true, onZero: false, lineStyle: { color: '#000', width: 1.2 } },
    axisTick: { show: true, inside: true, length: 6, customValues: X_MAJOR, lineStyle: { color: '#000', width: 1 } },
    axisLabel: {
      show: r === 3, customValues: X_MAJOR, margin: 6,
      formatter: v => v.toFixed(1),
      fontFamily: FONT, fontSize: 26, color: '#000'
    },
    splitLine: { show: false },
    name: r === 3 ? 'Redshift, {i|z}' : '',
    nameLocation: 'middle', nameGap: 35,
    nameTextStyle: {
      fontFamily: FONT, fontSize: 26, color: '#000',
      rich: { i: { fontFamily: FONT, fontSize: 26, fontStyle: 'italic', color: '#000' } }
    }
  });
  xAxes.push({
    type: 'value', gridIndex: i, min: 0, max: X_MAX, position: 'bottom',
    axisLine: { show: false },
    axisTick: { show: true, inside: true, length: 3, customValues: X_MINOR, lineStyle: { color: '#000', width: 1 } },
    axisLabel: { show: false }, splitLine: { show: false }
  });

  // y axes: labelled major ticks + short minor ticks
  yAxes.push({
    type: 'value', gridIndex: i, min: 0, max: Y_MAX[r] * unit, position: 'left',
    axisLine: { show: true, onZero: false, lineStyle: { color: '#000', width: 1.2 } },
    axisTick: { show: true, inside: true, length: 6, customValues: Y_MAJOR[r].map(v => v * unit), lineStyle: { color: '#000', width: 1 } },
    axisLabel: {
      show: c === 0, customValues: Y_MAJOR[r].map(v => v * unit), margin: 5,
      formatter: v => (v / unit).toFixed(1) + 'x10{s|' + ROW_EXP[r] + '}',
      fontFamily: FONT, fontSize: 26, color: '#000',
      rich: { s: { fontFamily: FONT, fontSize: 17, color: '#000', padding: [0, 0, 12, 0] } }
    },
    splitLine: { show: false },
    name: c === 0 ? '{n|N}{s|obj}' : '',
    nameLocation: 'middle', nameRotate: 90, nameGap: 96,
    nameTextStyle: {
      rich: {
        n: { fontFamily: FONT, fontSize: 27, fontStyle: 'italic', color: '#000' },
        s: { fontFamily: FONT, fontSize: 18, fontStyle: 'italic', color: '#000', padding: [10, 0, 0, 0] }
      }
    }
  });
  yAxes.push({
    type: 'value', gridIndex: i, min: 0, max: Y_MAX[r] * unit, position: 'left',
    axisLine: { show: false },
    axisTick: { show: true, inside: true, length: 3, customValues: Y_MINOR[r].map(v => v * unit), lineStyle: { color: '#000', width: 1 } },
    axisLabel: { show: false }, splitLine: { show: false }
  });

  const xi = 2 * i, yi = 2 * i;

  SURVEYS.forEach((s, k) => {
    series.push({
      type: 'custom', name: s.name, xAxisIndex: xi, yAxisIndex: yi,
      renderItem: errorBarRenderer(s.color), clip: true, z: 2 + k,
      encode: { x: 0, y: 1 },
      data: s.data[i].map(d => [d[0], d[1] * unit, d[2] * unit])
    });
  });

  series.push({
    type: 'line', name: 'Model', xAxisIndex: xi, yAxisIndex: yi,
    data: Z_MODEL.map((z, k) => [z, MODEL[i][k] * unit]),
    smooth: 0.35, showSymbol: false, clip: true, z: 10,
    lineStyle: { color: MODEL_COLOR, width: 2.2 }
  });

  // Magnitude bin label in the upper right of each panel
  graphics.push({
    type: 'text',
    x: COL_LEFT[c] + PANEL_W - 3, y: top + TITLE_DY[r],
    z: 100,
    style: {
      text: MAG_EDGES[i] + '< {i|mag} < ' + MAG_EDGES[i + 1],
      font: '27px ' + FONT, fill: '#000',
      align: 'right', verticalAlign: 'middle',
      rich: { i: { fontFamily: FONT, fontSize: 27, fontStyle: 'italic', fill: '#000' } }
    }
  });
}

// Legend drawn inside the first panel of the bottom row
const LEG_X_LINE = [140, 193], LEG_X_MARK = 166, LEG_X_TEXT = 214;
const LEG_Y = [947, 985, 1022, 1060, 1098];
graphics.push({
  type: 'line', z: 100,
  shape: { x1: LEG_X_LINE[0], y1: LEG_Y[0], x2: LEG_X_LINE[1], y2: LEG_Y[0] },
  style: { stroke: MODEL_COLOR, lineWidth: 2.2 }
});
graphics.push({
  type: 'text', z: 100, x: LEG_X_TEXT, y: LEG_Y[0],
  style: { text: 'Model', font: '27px ' + FONT, fill: '#000', verticalAlign: 'middle' }
});
SURVEYS.forEach((s, k) => {
  const y = LEG_Y[k + 1], h = 12, st = { stroke: s.color, lineWidth: BAR_W };
  graphics.push({
    type: 'group', z: 100,
    children: [
      { type: 'line', shape: { x1: LEG_X_MARK, y1: y - h, x2: LEG_X_MARK, y2: y + h }, style: st },
      { type: 'line', shape: { x1: LEG_X_MARK - CAP, y1: y - h, x2: LEG_X_MARK + CAP, y2: y - h }, style: st },
      { type: 'line', shape: { x1: LEG_X_MARK - CAP, y1: y + h, x2: LEG_X_MARK + CAP, y2: y + h }, style: st },
      { type: 'circle', shape: { cx: LEG_X_MARK, cy: y, r: DOT }, style: { fill: s.color } }
    ]
  });
  graphics.push({
    type: 'text', z: 100, x: LEG_X_TEXT, y: y,
    style: { text: s.name, font: '27px ' + FONT, fill: '#000', verticalAlign: 'middle' }
  });
});

const chart = echarts.init(document.getElementById('chart'), null, { renderer: 'canvas' });
chart.setOption({
  backgroundColor: '#ffffff',
  animation: false,
  grid: grids,
  xAxis: xAxes,
  yAxis: yAxes,
  series: series,
  graphic: graphics
});
</script>
</body>
</html>
